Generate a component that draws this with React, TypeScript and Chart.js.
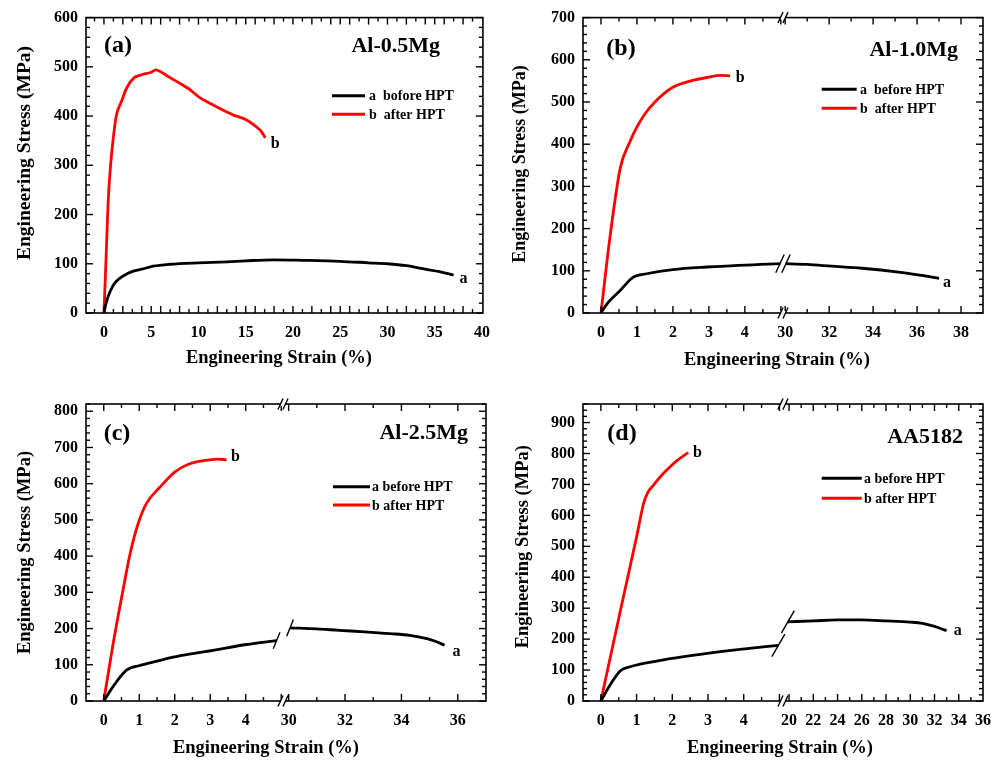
import React, { useEffect, useRef } from "react";
import { Chart, registerables } from "chart.js";
Chart.register(...registerables);

const FONT = "'Liberation Serif', 'Times New Roman', serif";
const RED = "#ff0000";
const BLACK = "#000000";

// ---------- Panel (a) Al-0.5Mg ----------
const aBeforeStrain = [0, 0.2, 0.45, 1, 1.7, 2.5, 3.1, 4, 5.2, 7, 10, 13, 15, 18, 21, 25, 28, 30, 32, 34, 35.5, 37];
const aBeforeStress = [0, 18, 34, 57, 71, 80, 85, 89, 95, 99, 102, 104, 106, 108, 107, 105, 102, 100, 96, 89, 84, 77];
const aAfterStrain = [0, 0.2, 0.45, 0.7, 0.95, 1.3, 1.86, 2.4, 3.2, 4, 5, 5.5, 6, 7, 8, 9, 10.1, 11, 12, 13.6, 15, 16, 16.6, 17.07];
const aAfterStress = [0, 100, 228, 300, 349, 400, 430, 457, 478, 484, 489, 494, 490, 478, 467, 455, 438, 428, 418, 403, 393, 380, 370, 356];
const aXTicks = [0, 5, 10, 15, 20, 25, 30, 35, 40];
const aYTicks = [0, 100, 200, 300, 400, 500, 600];
const aLegend = ["a  bofore HPT", "b  after HPT"];

// ---------- Panel (b) Al-1.0Mg ----------
const bBeforeStrainLeft = [0, 0.2, 0.54, 0.9, 1.27, 2.0, 2.94, 4.43, 5.06];
const bBeforeStressLeft = [0, 25, 54, 85, 93, 103, 109, 115, 117];
const bBeforeStrainRight = [29.9, 31, 32.1, 33.5, 35.15, 36.2, 37];
const bBeforeStressRight = [117, 115, 111, 106, 97, 89, 82];
const bAfterStrain = [0, 0.25, 0.54, 0.8, 1.0, 1.25, 1.5, 1.75, 2.0, 2.5, 3.0, 3.3, 3.59];
const bAfterStress = [0, 180, 345, 405, 441, 475, 500, 520, 535, 550, 559, 563, 562];
const bXTicksLeft = [0, 1, 2, 3, 4];
const bXTicksRight = [30, 32, 34, 36, 38];
const bYTicks = [0, 100, 200, 300, 400, 500, 600, 700];
const bLegend = ["a  before HPT", "b  after HPT"];

// ---------- Panel (c) Al-2.5Mg ----------
const cBeforeStrainLeft = [0, 0.3, 0.64, 1.01, 1.5, 1.95, 2.5, 3.08, 4.02, 4.87];
const cBeforeStressLeft = [0, 45, 85, 98, 110, 121, 131, 140, 156, 167];
const cBeforeStrainRight = [30.05, 31, 31.8, 32.7, 33.6, 34.3, 34.9, 35.2, 35.53];
const cBeforeStressRight = [202, 199, 195, 191, 186, 181, 172, 165, 154];
const cAfterStrain = [0, 0.25, 0.54, 0.75, 0.97, 1.2, 1.58, 2.0, 2.42, 2.99, 3.2, 3.46];
const cAfterStress = [0, 150, 305, 410, 490, 545, 590, 632, 655, 666, 668, 666];
const cXTicksLeft = [0, 1, 2, 3, 4];
const cXTicksRight = [30, 32, 34, 36];
const cYTicks = [0, 100, 200, 300, 400, 500, 600, 700, 800];
const cLegend = ["a before HPT", "b after HPT"];

// ---------- Panel (d) AA5182 ----------
const dBeforeStrainLeft = [0, 0.25, 0.54, 0.8, 1.1, 1.85, 2.78, 3.9, 4.97];
const dBeforeStressLeft = [0, 50, 97, 110, 119, 135, 151, 167, 180];
const dBeforeStrainRight = [19.9, 22, 24, 26, 28, 30, 31, 32, 33.0];
const dBeforeStressRight = [256, 259, 262, 262, 259, 255, 251, 241, 227];
const dAfterStrain = [0, 0.6, 1.0, 1.2, 1.32, 1.47, 1.66, 1.94, 2.13, 2.45];
const dAfterStress = [0, 320, 530, 640, 675, 697, 724, 757, 777, 803];
const dXTicksLeft = [0, 1, 2, 3, 4];
const dXTicksRight = [20, 22, 24, 26, 28, 30, 32, 34, 36];
const dYTicks = [0, 100, 200, 300, 400, 500, 600, 700, 800, 900];
const dLegend = ["a before HPT", "b after HPT"];

type Seg = { min: number; max: number; ticks: number[]; minor: number; weight: number };
type Part = { x: number[]; y: number[] };
type Series = { label: string; color: string; parts: Part[]; end: string; endOff: [number, number] };
type Panel = {
  box: { left: number; top: number; width: number; height: number };
  area: { left: number; top: number; right: number; bottom: number };
  yMax: number;
  yTicks: number[];
  yMinor: number;
  segs: Seg[];
  series: Series[];
  tag: string;
  tagPos: [number, number];
  alloy: string;
  alloyPos: [number, number];
  legend: { x1: number; x2: number; ys: number[]; tx: number };
  yTitle: { x: number; y: number; size: number };
  xTitle: { x: number; y: number; size: number };
  curveBreak: null | { type: "double" | "single"; len: number; angle: number };
};

const panels: Panel[] = [
  {
    box: { left: 0, top: 0, width: 500, height: 385 },
    area: { left: 86, top: 16, right: 486, bottom: 313 },
    yMax: 600, yTicks: aYTicks, yMinor: 20,
    segs: [{ min: -1.9, max: 40.1, ticks: aXTicks, minor: 1, weight: 1 }],
    series: [
      { label: aLegend[0], color: BLACK, parts: [{ x: aBeforeStrain, y: aBeforeStress }], end: "a", endOff: [10, 4] },
      { label: aLegend[1], color: RED, parts: [{ x: aAfterStrain, y: aAfterStress }], end: "b", endOff: [10, 6] },
    ],
    tag: "(a)", tagPos: [118, 46], alloy: "Al-0.5Mg", alloyPos: [440, 46],
    legend: { x1: 332, x2: 365, ys: [95.7, 114.3], tx: 369 },
    yTitle: { x: 25, y: 153, size: 19.5 }, xTitle: { x: 279, y: 358, size: 18.5 },
    curveBreak: null,
  },
  {
    box: { left: 500, top: 0, width: 503, height: 385 },
    area: { left: 83, top: 15, right: 483, bottom: 313 },
    yMax: 700, yTicks: bYTicks, yMinor: 20,
    segs: [
      { min: -0.5, max: 5.06, ticks: bXTicksLeft, minor: 0.5, weight: 1 },
      { min: 29.9, max: 39, ticks: bXTicksRight, minor: 1, weight: 1 },
    ],
    series: [
      { label: bLegend[0], color: BLACK, parts: [{ x: bBeforeStrainLeft, y: bBeforeStressLeft }, { x: bBeforeStrainRight, y: bBeforeStressRight }], end: "a", endOff: [8, 4] },
      { label: bLegend[1], color: RED, parts: [{ x: bAfterStrain, y: bAfterStress }], end: "b", endOff: [10, 2] },
    ],
    tag: "(b)", tagPos: [121, 49], alloy: "Al-1.0Mg", alloyPos: [458, 50],
    legend: { x1: 321.7, x2: 356.7, ys: [89.3, 108.3], tx: 360 },
    yTitle: { x: 20, y: 164, size: 18 }, xTitle: { x: 277, y: 360, size: 18.5 },
    curveBreak: { type: "double", len: 20, angle: 65 },
  },
  {
    box: { left: 0, top: 385, width: 500, height: 375 },
    area: { left: 86, top: 19, right: 486, bottom: 316 },
    yMax: 820, yTicks: cYTicks, yMinor: 20,
    segs: [
      { min: -0.5, max: 5.05, ticks: cXTicksLeft, minor: 0.5, weight: 197 },
      { min: 29.8, max: 37, ticks: cXTicksRight, minor: 1, weight: 203 },
    ],
    series: [
      { label: cLegend[0], color: BLACK, parts: [{ x: cBeforeStrainLeft, y: cBeforeStressLeft }, { x: cBeforeStrainRight, y: cBeforeStressRight }], end: "a", endOff: [12, 7] },
      { label: cLegend[1], color: RED, parts: [{ x: cAfterStrain, y: cAfterStress }], end: "b", endOff: [9, -3] },
    ],
    tag: "(c)", tagPos: [117, 49], alloy: "Al-2.5Mg", alloyPos: [468, 48],
    legend: { x1: 333, x2: 370, ys: [101.7, 120], tx: 372 },
    yTitle: { x: 25, y: 167.5, size: 18.5 }, xTitle: { x: 266, y: 363, size: 18.5 },
    curveBreak: { type: "single", len: 18, angle: 68 },
  },
  {
    box: { left: 500, top: 385, width: 503, height: 375 },
    area: { left: 83, top: 19, right: 483, bottom: 316 },
    yMax: 960, yTicks: dYTicks, yMinor: 20,
    segs: [
      { min: -0.5, max: 5.1, ticks: dXTicksLeft, minor: 0.5, weight: 1 },
      { min: 19.5, max: 36, ticks: dXTicksRight, minor: 1, weight: 1 },
    ],
    series: [
      { label: dLegend[0], color: BLACK, parts: [{ x: dBeforeStrainLeft, y: dBeforeStressLeft }, { x: dBeforeStrainRight, y: dBeforeStressRight }], end: "a", endOff: [11, 0] },
      { label: dLegend[1], color: RED, parts: [{ x: dAfterStrain, y: dAfterStress }], end: "b", endOff: [9, 0] },
    ],
    tag: "(d)", tagPos: [122, 49], alloy: "AA5182", alloyPos: [463, 52],
    legend: { x1: 321.7, x2: 361.7, ys: [93.3, 113.3], tx: 364 },
    yTitle: { x: 23, y: 161.7, size: 18.5 }, xTitle: { x: 280, y: 363, size: 18.5 },
    curveBreak: { type: "single", len: 26, angle: 60 },
  },
];

function seg2(ctx: CanvasRenderingContext2D, x1: number, y1: number, x2: number, y2: number) {
  ctx.beginPath();
  ctx.moveTo(x1, y1);
  ctx.lineTo(x2, y2);
  ctx.stroke();
}

function slash(ctx: CanvasRenderingContext2D, cx: number, cy: number, len: number, angleDeg: number) {
  const r = (angleDeg * Math.PI) / 180;
  const dx = (Math.cos(r) * len) / 2;
  const dy = (Math.sin(r) * len) / 2;
  seg2(ctx, cx - dx, cy + dy, cx + dx, cy - dy);
}

function bold(size: number) {
  return `bold ${size}px ${FONT}`;
}

function makePlugin(p: Panel) {
  return {
    id: "decor",
    afterDraw(chart: any) {
      const ctx: CanvasRenderingContext2D = chart.ctx;
      const a = chart.chartArea;
      const ys = chart.scales.y;
      const xs = p.segs.map((_, i) => chart.scales["x" + i]);
      ctx.save();
      ctx.strokeStyle = "#000";
      ctx.fillStyle = "#000";
      ctx.lineWidth = 1.6;
      ctx.strokeRect(a.left, a.top, a.right - a.left, a.bottom - a.top);

      // y ticks (left and right, inward)
      ctx.lineWidth = 1.4;
      const nY = Math.floor(p.yMax / p.yMinor + 1e-9);
      for (let n = 0; n <= nY; n++) {
        const v = n * p.yMinor;
        const py = ys.getPixelForValue(v);
        const major = p.yTicks.some((t) => Math.abs(t - v) < 1e-6);
        const len = major ? 7 : 4;
        seg2(ctx, a.left, py, a.left + len, py);
        seg2(ctx, a.right, py, a.right - len, py);
      }
      // x ticks (bottom and top, inward)
      xs.forEach((sc: any, i: number) => {
        const s = p.segs[i];
        const n0 = Math.ceil(s.min / s.minor - 1e-9);
        const n1 = Math.floor(s.max / s.minor + 1e-9);
        for (let n = n0; n <= n1; n++) {
          const v = n * s.minor;
          const px = sc.getPixelForValue(v);
          if (px < a.left + 1 || px > a.right - 1) continue;
          const major = s.ticks.some((t) => Math.abs(t - v) < 1e-6) || Math.abs(v / (s.minor * 2) - Math.round(v / (s.minor * 2))) < 1e-6;
          const len = major ? 7 : 4;
          seg2(ctx, px, a.bottom, px, a.bottom - len);
          seg2(ctx, px, a.top, px, a.top + len);
        }
      });

      // axis breaks on frame
      for (let i = 1; i < xs.length; i++) {
        const bx = xs[i].left;
        [a.top, a.bottom].forEach((yy: number) => {
          ctx.fillStyle = "#fff";
          ctx.fillRect(bx - 2.5, yy - 2, 5, 4);
          ctx.strokeStyle = "#000";
          ctx.lineWidth = 1.4;
          slash(ctx, bx - 2.5, yy, 12, 65);
          slash(ctx, bx + 2.5, yy, 12, 65);
        });
      }

      // breaks on the curve
      if (p.curveBreak && xs.length > 1) {
        const s = p.series.find((q) => q.parts.length > 1)!;
        const L = s.parts[0];
        const R = s.parts[1];
        const lx = xs[0].getPixelForValue(L.x[L.x.length - 1]);
        const ly = ys.getPixelForValue(L.y[L.y.length - 1]);
        const rx = xs[1].getPixelForValue(R.x[0]);
        const ry = ys.getPixelForValue(R.y[0]);
        ctx.strokeStyle = "#000";
        ctx.lineWidth = 1.4;
        if (p.curveBreak.type === "double") {
          const bx = xs[1].left;
          const by = (ly + ry) / 2;
          ctx.fillStyle = "#fff";
          ctx.fillRect(bx - 2.5, by - 3, 5, 6);
          slash(ctx, bx - 3, by, p.curveBreak.len, p.curveBreak.angle);
          slash(ctx, bx + 3, by, p.curveBreak.len, p.curveBreak.angle);
        } else {
          slash(ctx, lx, ly, p.curveBreak.len, p.curveBreak.angle);
          slash(ctx, rx, ry, p.curveBreak.len, p.curveBreak.angle);
        }
      }

      // legend
      ctx.textBaseline = "middle";
      ctx.textAlign = "left";
      p.series.forEach((s, i) => {
        const yy = p.legend.ys[i];
        ctx.strokeStyle = s.color;
        ctx.lineWidth = 3;
        seg2(ctx, p.legend.x1, yy, p.legend.x2, yy);
        ctx.fillStyle = "#000";
        ctx.font = bold(14);
        ctx.fillText(s.label, p.legend.tx, yy + 1);
      });

      // end labels
      ctx.font = bold(16);
      ctx.textAlign = "center";
      p.series.forEach((s) => {
        const k = s.parts.length - 1;
        const part = s.parts[k];
        const px = xs[k].getPixelForValue(part.x[part.x.length - 1]);
        const py = ys.getPixelForValue(part.y[part.y.length - 1]);
        ctx.fillText(s.end, px + s.endOff[0], py + s.endOff[1]);
      });

      // panel tag and alloy name
      ctx.font = bold(24);
      ctx.textAlign = "center";
      ctx.fillText(p.tag, p.tagPos[0], p.tagPos[1]);
      ctx.font = bold(22);
      ctx.textAlign = "right";
      ctx.fillText(p.alloy, p.alloyPos[0], p.alloyPos[1]);

      // axis titles
      ctx.textAlign = "center";
      ctx.font = bold(p.xTitle.size);
      ctx.fillText("Engineering Strain (%)", p.xTitle.x, p.xTitle.y);
      ctx.save();
      ctx.translate(p.yTitle.x, p.yTitle.y);
      ctx.rotate(-Math.PI / 2);
      ctx.font = bold(p.yTitle.size);
      ctx.fillText("Engineering Stress (MPa)", 0, 0);
      ctx.restore();

      ctx.restore();
    },
  };
}

function PanelChart({ p }: { p: Panel }) {
  const ref = useRef<HTMLCanvasElement>(null);
  useEffect(() => {
    const canvas = ref.current;
    if (!canvas) return;
    const datasets: any[] = [];
    p.series.forEach((s) => {
      s.parts.forEach((part, i) => {
        datasets.push({
          label: i === 0 ? s.label : "",
          data: part.x.map((v, j) => ({ x: v, y: part.y[j] })),
          borderColor: s.color,
          backgroundColor: s.color,
          borderWidth: 2.8,
          pointRadius: 0,
          fill: false,
          cubicInterpolationMode: "monotone",
          xAxisID: "x" + i,
          yAxisID: "y",
        });
      });
    });
    const tickFont = { family: FONT, size: 16, weight: "bold" as const };
    const scales: any = {
      y: {
        type: "linear",
        position: "left",
        min: 0,
        max: p.yMax,
        grid: { display: false, drawTicks: false },
        border: { display: false },
        ticks: { padding: 8, color: "#000", font: tickFont, autoSkip: false, callback: (v: any) => String(v) },
        afterBuildTicks: (sc: any) => {
          sc.ticks = p.yTicks.map((v) => ({ value: v }));
        },
        afterFit: (sc: any) => {
          sc.width = p.area.left;
        },
      },
    };
    p.segs.forEach((s, i) => {
      scales["x" + i] = {
        type: "linear",
        axis: "x",
        position: "bottom",
        min: s.min,
        max: s.max,
        ...(p.segs.length > 1 ? { stack: "xs", stackWeight: s.weight } : {}),
        grid: { display: false, drawTicks: false },
        border: { display: false },
        ticks: {
          autoSkip: false,
          maxRotation: 0,
          minRotation: 0,
          padding: 10,
          color: "#000",
          font: tickFont,
          callback: (v: any) => String(v),
        },
        afterBuildTicks: (sc: any) => {
          sc.ticks = s.ticks.map((v) => ({ value: v }));
        },
        afterFit: (sc: any) => {
          sc.height = p.box.height - p.area.bottom;
        },
      };
    });
    const chart = new Chart(canvas, {
      type: "line",
      data: { datasets },
      options: {
        responsive: false,
        animation: false,
        devicePixelRatio: 1,
        layout: { padding: { left: 0, top: p.area.top, right: p.box.width - p.area.right, bottom: 0 } },
        plugins: { legend: { display: false }, tooltip: { enabled: false }, title: { display: false } },
        scales,
      } as any,
      plugins: [makePlugin(p)],
    });
    return () => chart.destroy();
  }, [p]);
  return (
    <canvas
      ref={ref}
      width={p.box.width}
      height={p.box.height}
      style={{ position: "absolute", left: p.box.left, top: p.box.top, width: p.box.width, height: p.box.height }}
    />
  );
}

export default function App() {
  Chart.defaults.font.family = FONT;
  return (
    <div style={{ position: "absolute", left: 0, top: 0, width: 1003, height: 760, background: "#fff" }}>
      {panels.map((p, i) => (
        <PanelChart key={i} p={p} />
      ))}
    </div>
  );
}
